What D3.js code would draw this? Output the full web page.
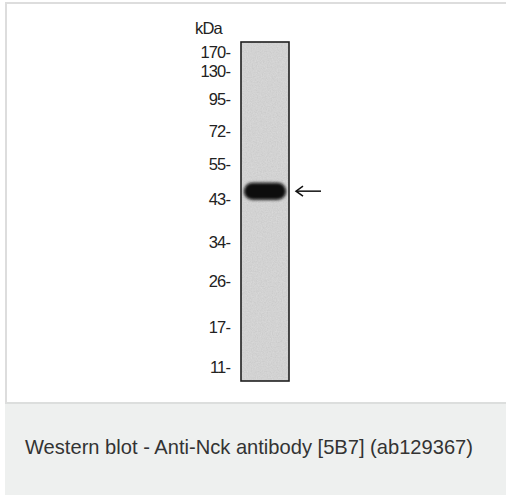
<!DOCTYPE html>
<html>
<head>
<meta charset="utf-8">
<script src="https://cdn.jsdelivr.net/npm/d3@7"></script>
<style>
  body { margin: 0; background: #fff; }
  svg { display: block; font-family: "Liberation Sans", Arial, sans-serif; }
</style>
</head>
<body>
<div id="chart"></div>
<script>
// Western blot - marker ladder + one band

const markerLabels = ["170", "130", "95", "72", "55", "43", "34", "26", "17", "11"];
// relative migration (0 = top of lane, 1 = bottom)
const markerRf = [0.03, 0.086, 0.168, 0.263, 0.36, 0.463, 0.59, 0.705, 0.841, 0.959];
const bandRf = [0.44];
const caption = "Western blot - Anti-Nck antibody [5B7] (ab129367)";

const W = 506, H = 495;

const svg = d3.select("#chart")
    .append("svg")
    .attr("width", W)
    .attr("height", H);

const defs = svg.append("defs");

const noise = defs.append("filter").attr("id", "grain")
    .attr("x", 0).attr("y", 0).attr("width", 1).attr("height", 1);
noise.append("feTurbulence")
    .attr("type", "fractalNoise")
    .attr("baseFrequency", 0.8)
    .attr("numOctaves", 2)
    .attr("seed", 4)
    .attr("result", "t");
noise.append("feColorMatrix")
    .attr("in", "t")
    .attr("type", "matrix")
    .attr("values", "0 0 0 0 0  0 0 0 0 0  0 0 0 0 0  0 0 0 0.09 0")
    .attr("result", "n");
noise.append("feComposite").attr("in", "n").attr("in2", "SourceGraphic").attr("operator", "in");

defs.append("filter").attr("id", "soft")
    .attr("x", -0.3).attr("y", -0.6).attr("width", 1.6).attr("height", 2.2)
    .append("feGaussianBlur").attr("stdDeviation", 1.8);

// frame
svg.append("rect").attr("x", 5).attr("y", 402).attr("width", W - 5).attr("height", H - 402).attr("fill", "#eef0ef");
svg.append("rect").attr("x", 5).attr("y", 402).attr("width", W - 5).attr("height", 2).attr("fill", "#dcdedd");
svg.append("rect").attr("x", 5).attr("y", 2).attr("width", W - 5).attr("height", 2).attr("fill", "#dddddd");
svg.append("rect").attr("x", 5).attr("y", 2).attr("width", 2).attr("height", 401).attr("fill", "#dddddd");

// lane
const laneX = 241, laneW = 48;
const y = d3.scaleLinear().domain([0, 1]).range([42, 381]);

svg.append("rect")
    .attr("x", laneX).attr("y", y(0))
    .attr("width", laneW).attr("height", y(1) - y(0))
    .attr("fill", "#dcdcdc");
svg.append("rect")
    .attr("x", laneX).attr("y", y(0))
    .attr("width", laneW).attr("height", y(1) - y(0))
    .attr("fill", "#fff")
    .attr("filter", "url(#grain)");

// band
svg.selectAll(".band")
    .data(bandRf)
    .enter()
    .append("rect")
    .attr("class", "band")
    .attr("x", laneX + 3)
    .attr("y", d => y(d) - 8.5)
    .attr("width", laneW - 6)
    .attr("height", 17)
    .attr("rx", 8.5)
    .attr("fill", "#080808")
    .attr("filter", "url(#soft)");

svg.append("rect")
    .attr("x", laneX).attr("y", y(0))
    .attr("width", laneW).attr("height", y(1) - y(0))
    .attr("fill", "none")
    .attr("stroke", "#1e1e1e")
    .attr("stroke-width", 1.6);

// arrow
const ay = y(bandRf[0]);
const arrow = svg.append("g").attr("stroke", "#111").attr("stroke-width", 1.5).attr("fill", "none");
arrow.append("line").attr("x1", 297).attr("x2", 321).attr("y1", ay).attr("y2", ay);
arrow.append("polyline").attr("points", `303,${ay - 5} 296,${ay} 303,${ay + 5}`);

// marker labels
svg.append("text")
    .attr("x", 195).attr("y", 34)
    .attr("font-size", 16.5)
    .attr("letter-spacing", -0.8)
    .attr("fill", "#222")
    .text("kDa");

svg.selectAll(".mk")
    .data(markerLabels)
    .enter()
    .append("text")
    .attr("class", "mk")
    .attr("x", 230)
    .attr("y", (d, i) => y(markerRf[i]))
    .attr("dy", "0.36em")
    .attr("text-anchor", "end")
    .attr("font-size", 16.5)
    .attr("letter-spacing", -0.9)
    .attr("fill", "#222")
    .text(d => d + "-");

// caption
svg.append("text")
    .attr("x", 25).attr("y", 454)
    .attr("font-size", 21)
    .attr("fill", "#333")
    .attr("textLength", 448)
    .attr("lengthAdjust", "spacingAndGlyphs")
    .text(caption);
</script>
</body>
</html>
